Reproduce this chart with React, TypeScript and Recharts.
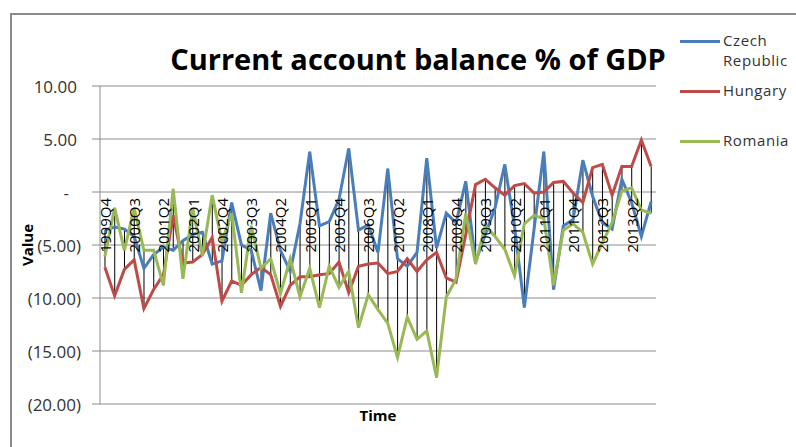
import { ComposedChart, Line, Bar, XAxis, YAxis, CartesianGrid } from 'recharts';

const quarters = [
  '1999Q4',
  '2000Q1', '2000Q2', '2000Q3', '2000Q4',
  '2001Q1', '2001Q2', '2001Q3', '2001Q4',
  '2002Q1', '2002Q2', '2002Q3', '2002Q4',
  '2003Q1', '2003Q2', '2003Q3', '2003Q4',
  '2004Q1', '2004Q2', '2004Q3', '2004Q4',
  '2005Q1', '2005Q2', '2005Q3', '2005Q4',
  '2006Q1', '2006Q2', '2006Q3', '2006Q4',
  '2007Q1', '2007Q2', '2007Q3', '2007Q4',
  '2008Q1', '2008Q2', '2008Q3', '2008Q4',
  '2009Q1', '2009Q2', '2009Q3', '2009Q4',
  '2010Q1', '2010Q2', '2010Q3', '2010Q4',
  '2011Q1', '2011Q2', '2011Q3', '2011Q4',
  '2012Q1', '2012Q2', '2012Q3', '2012Q4',
  '2013Q1', '2013Q2', '2013Q3', '2013Q4',
];

const czech = [
  -3.6, -3.3, -3.5, -4.2, -7.2, -5.9, -5.2, -5.5, -4.6, -4.0,
  -3.8, -6.8, -6.5, -1.0, -5.0, -5.5, -9.3, -2.0, -5.5, -7.5,
  -3.0, 3.8, -3.2, -2.8, -0.7, 4.1, -3.6, -3.1, -5.7, 2.2,
  -6.3, -7.0, -5.7, 3.2, -5.3, -2.0, -2.9, 1.0, -6.6, -4.0,
  -1.5, 2.6, -3.3, -10.9, -3.5, 3.8, -9.2, -3.2, -2.6, 3.0,
  -0.4, -2.9, -3.5, 1.2, -1.0, -4.2, -0.9,
];

const hungary = [
  -7.1, -9.8, -7.3, -6.4, -11.0, -9.2, -7.8, -2.2, -6.7, -6.6,
  -5.9, -4.3, -10.3, -8.4, -8.8, -7.8, -7.1, -7.8, -10.8, -8.8,
  -8.0, -8.0, -7.8, -7.7, -6.6, -9.5, -7.0, -6.8, -6.7, -7.7,
  -7.5, -6.3, -7.5, -6.4, -5.7, -8.1, -8.5, -4.0, 0.7, 1.2,
  0.4, -0.3, 0.6, 0.8, -0.1, 0.0, 0.9, 1.0, -0.1, -1.0,
  2.3, 2.6, -0.3, 2.4, 2.4, 4.9, 2.4,
];

const romania = [
  -6.1, -1.5, -5.5, -1.5, -5.5, -5.5, -8.8, 0.3, -8.2, -1.5,
  -6.0, -0.3, -4.7, -2.0, -9.5, -3.2, -7.2, -6.3, -9.6, -6.3,
  -9.9, -7.2, -10.9, -7.0, -9.0, -7.5, -12.8, -9.7, -11.1, -12.4,
  -15.6, -11.8, -13.9, -13.1, -17.5, -9.9, -8.2, -2.0, -6.8, -3.2,
  -4.2, -5.4, -7.9, -3.0, -2.2, -2.5, -8.8, -3.6, -3.0, -3.8,
  -6.8, -4.8, -2.9, 0.1, 0.4, -1.7, -2.0,
];

const yTicks = [10, 5, 0, -5, -10, -15, -20];
const Y_MIN = -20;
const Y_MAX = 10;

const series = [
  { key: 'czech', name: 'Czech Republic', color: '#4A7EBB' },
  { key: 'hungary', name: 'Hungary', color: '#BE4B48' },
  { key: 'romania', name: 'Romania', color: '#98B954' },
];

const data = quarters.map((q, i) => {
  const vals = [czech[i], hungary[i], romania[i]];
  return {
    q,
    czech: czech[i],
    hungary: hungary[i],
    romania: romania[i],
    hl: [Math.min(...vals), Math.max(...vals)],
  };
});

const W = 796;
const H = 447;
const MARGIN = { top: 86, right: 140, bottom: 13, left: 10 };
const Y_AXIS_W = 90;
const X_AXIS_H = 30;
const PLOT_H = H - MARGIN.top - MARGIN.bottom - X_AXIS_H;
const zeroY = MARGIN.top + (Y_MAX / (Y_MAX - Y_MIN)) * PLOT_H;

const FONT = '"Open Sans", "DejaVu Sans", sans-serif';

const fmtY = (v: number) => {
  if (v === 0) return '-';
  if (v < 0) return `(${Math.abs(v).toFixed(2)})`;
  return v.toFixed(2);
};

// accounting style: positives leave room for the paren, zero is a dash
const YTick = ({ x, y, payload }: any) => {
  const v = payload.value as number;
  const shift = v === 0 ? 21 : v > 0 ? 13 : 9;
  return (
    <text x={x - shift} y={y} textAnchor="end" dominantBaseline="central" fontSize={17} fill="#333" fontFamily={FONT}>
      {fmtY(v)}
    </text>
  );
};

const XTick = ({ x, payload }: any) => (
  <text
    x={x}
    y={zeroY + 6}
    transform={`rotate(-90 ${x} ${zeroY + 6})`}
    textAnchor="end"
    dominantBaseline="central"
    fontSize={15}
    fill="#000"
    fontFamily={FONT}
  >
    {payload.value}
  </text>
);

const HighLow = (props: any) => {
  const { x, y, width, height } = props;
  if (x == null || y == null) return null;
  const cx = x + width / 2;
  const top = Math.min(y, y + height);
  const bottom = Math.max(y, y + height);
  return <line x1={cx} x2={cx} y1={top} y2={bottom} stroke="#000" strokeWidth={1} />;
};

const legendItems = [
  { ...series[0], lines: ['Czech', 'Republic'], top: 30 },
  { ...series[1], lines: ['Hungary'], top: 80 },
  { ...series[2], lines: ['Romania'], top: 130 },
];

export default function App() {
  return (
    <div style={{ position: 'absolute', left: 0, top: 0, width: W, height: H, overflow: 'hidden', background: '#fff', fontFamily: FONT }}>
      <div style={{ position: 'absolute', left: 10, top: 13, width: 800, height: 450, border: '2px solid #8a8a8a', boxSizing: 'border-box' }} />
      <div style={{ position: 'absolute', left: 0, top: 40, width: 836, textAlign: 'center', fontSize: 29, fontWeight: 700, color: '#000', lineHeight: '38px' }}>
        Current account balance % of GDP
      </div>
      {legendItems.map((it) => (
        <div key={it.key} style={{ position: 'absolute', left: 680, top: it.top }}>
          <div style={{ position: 'absolute', left: 0, top: 10, width: 40, height: 3, background: it.color }} />
          <div style={{ position: 'absolute', left: 43, top: 0, fontSize: 15, lineHeight: '20px', color: '#333', letterSpacing: 0.6, whiteSpace: 'nowrap' }}>
            {it.lines.map((l) => (
              <div key={l}>{l}</div>
            ))}
          </div>
        </div>
      ))}
      <div style={{ position: 'absolute', left: 0, top: 0 }}>
        <ComposedChart width={W} height={H} data={data} margin={MARGIN}>
          <CartesianGrid horizontal vertical={false} stroke="#8c8c8c" />
          <XAxis
            dataKey="q"
            interval={2}
            tickLine={false}
            axisLine={false}
            height={X_AXIS_H}
            tick={<XTick />}
            label={{ value: 'Time', position: 'insideTop', offset: 6, style: { fontWeight: 700, fontSize: 15, fill: '#000', fontFamily: FONT } }}
          />
          <YAxis
            type="number"
            domain={[Y_MIN, Y_MAX]}
            ticks={yTicks}
            width={Y_AXIS_W}
            tickSize={8}
            stroke="#8c8c8c"
            tick={<YTick />}
            label={{
              content: ({ viewBox }: any) => {
                const lx = viewBox.x + 17;
                const ly = viewBox.y + viewBox.height / 2;
                return (
                  <text x={lx} y={ly} transform={`rotate(-90 ${lx} ${ly})`} textAnchor="middle" dominantBaseline="central" fontWeight={700} fontSize={15} fill="#000" fontFamily={FONT}>
                    Value
                  </text>
                );
              },
            }}
          />
          {series.map((s) => (
            <Line key={s.key} type="linear" dataKey={s.key} name={s.name} stroke={s.color} strokeWidth={3} dot={false} isAnimationActive={false} />
          ))}
          <Bar dataKey="hl" shape={<HighLow />} isAnimationActive={false} legendType="none" />
        </ComposedChart>
      </div>
    </div>
  );
}
